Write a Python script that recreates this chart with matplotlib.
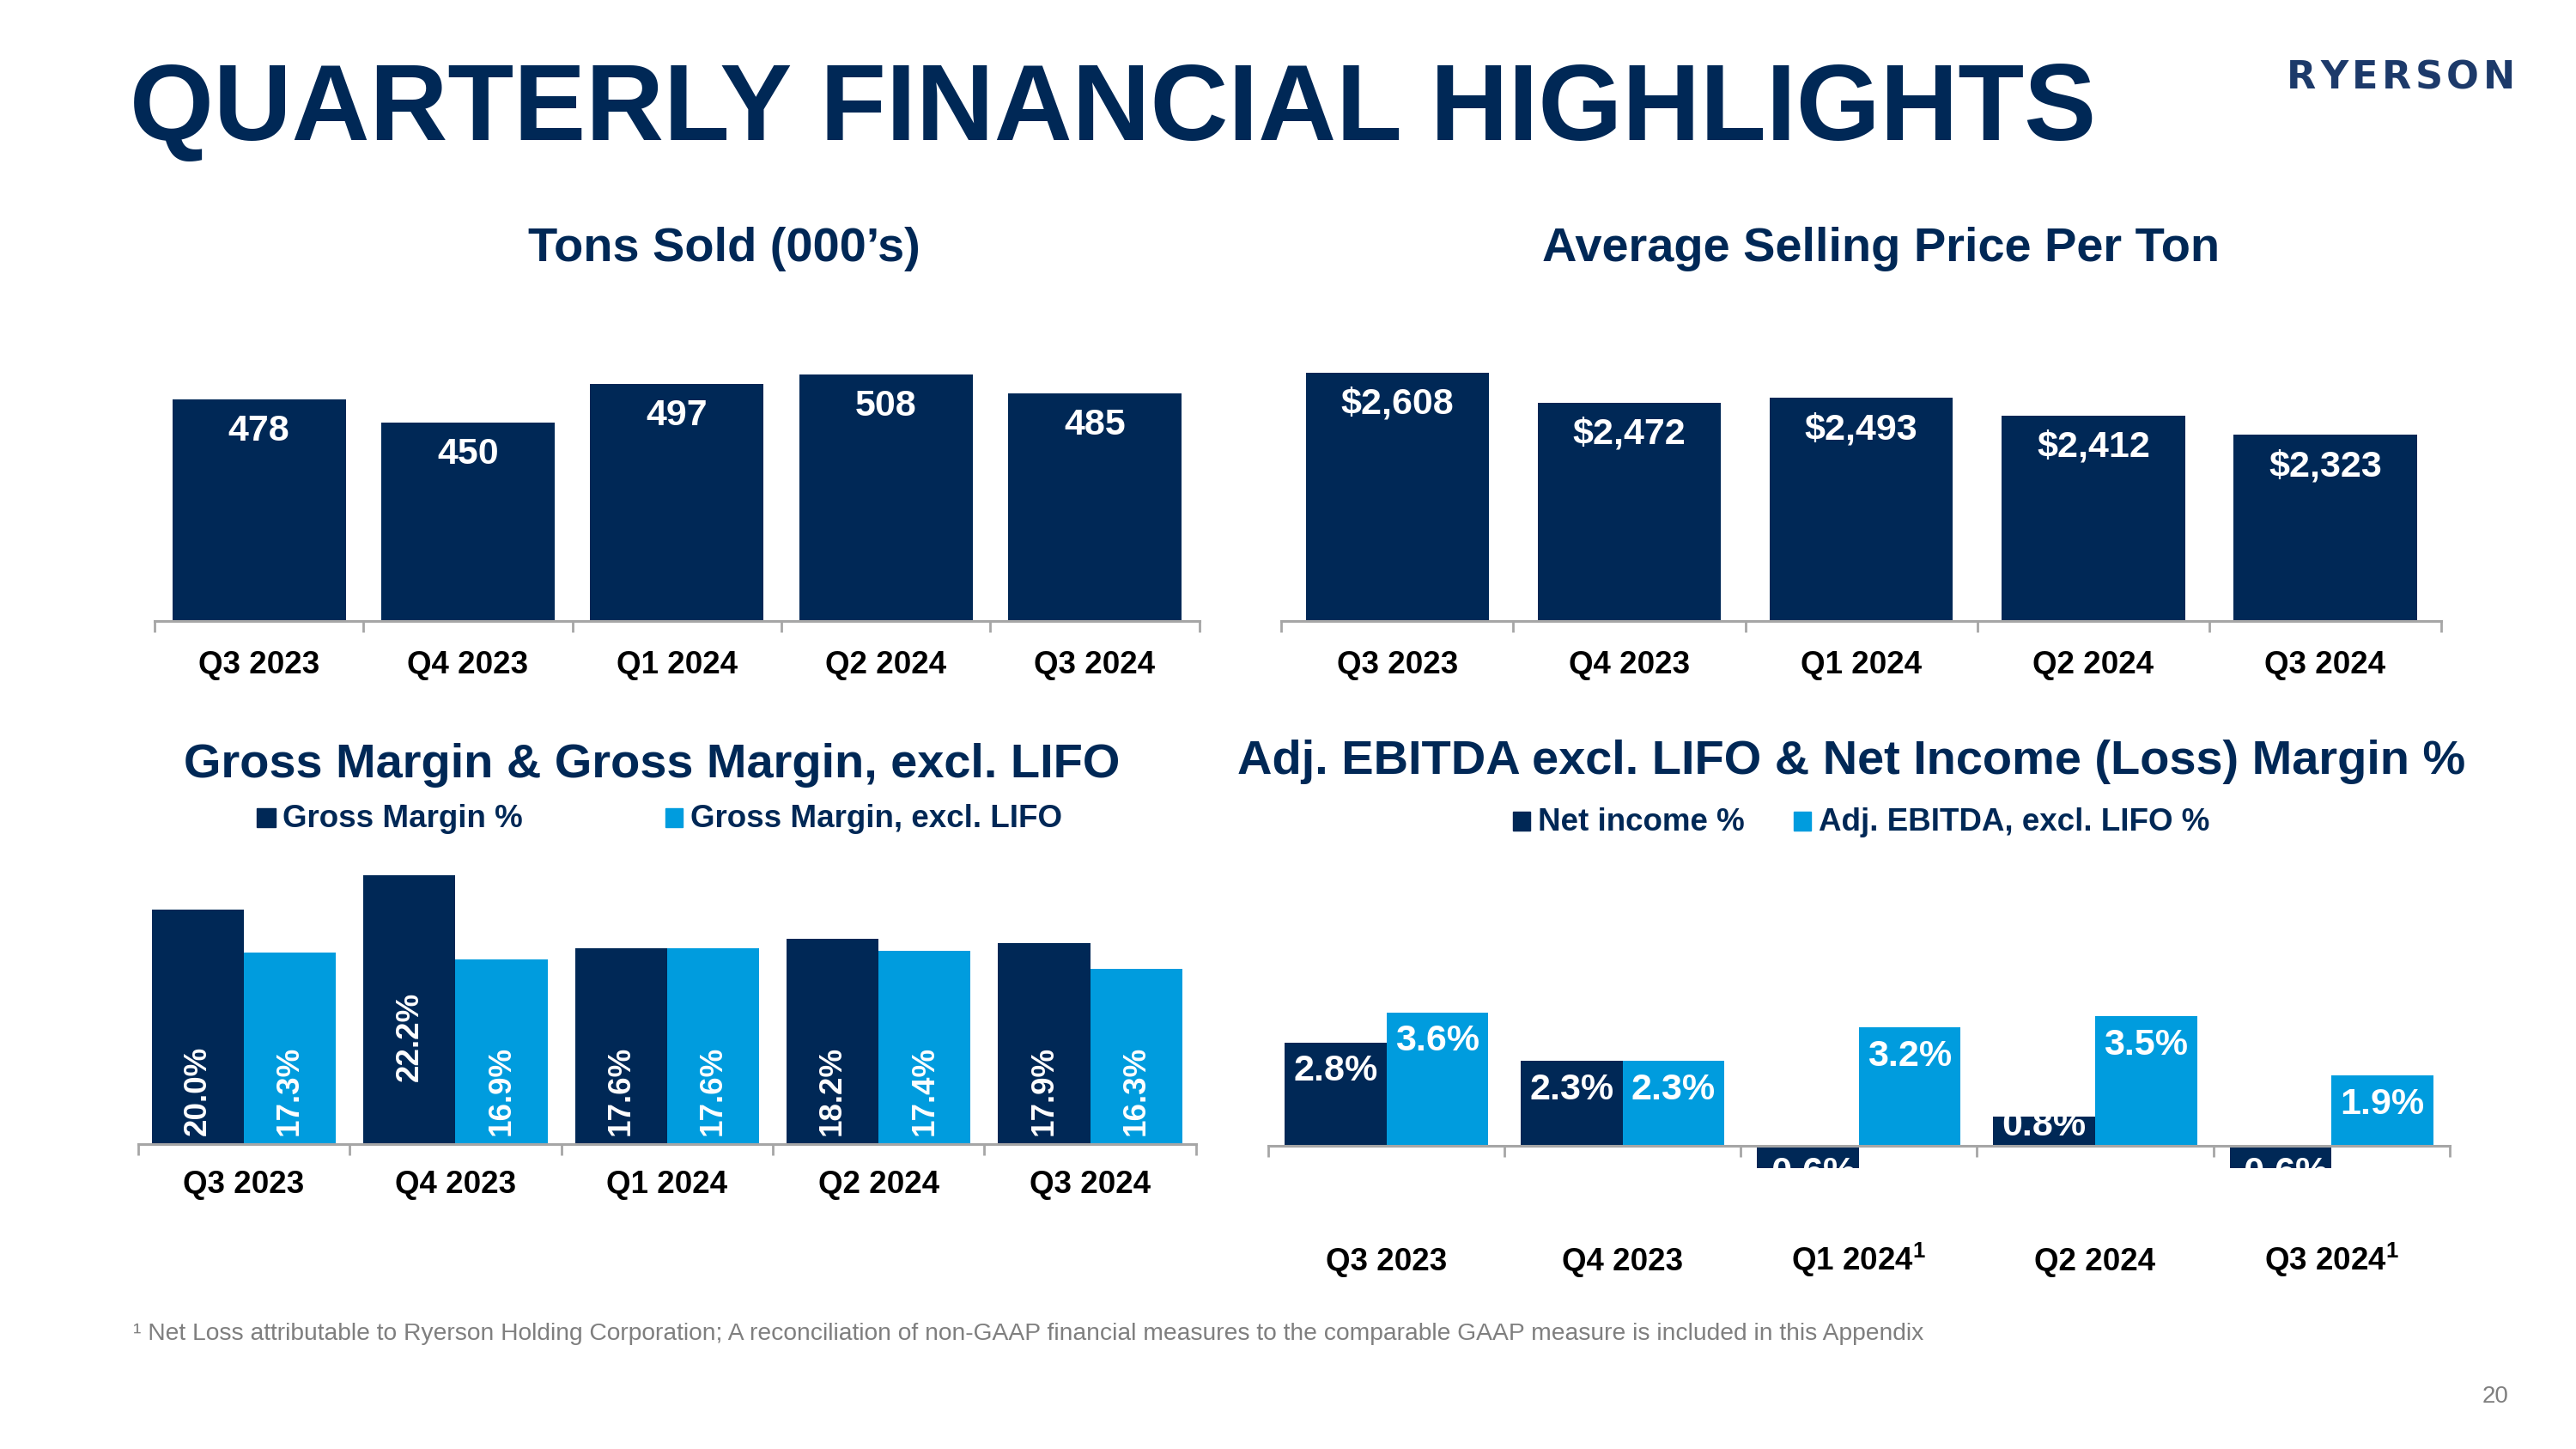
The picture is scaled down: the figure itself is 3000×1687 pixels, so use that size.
import matplotlib
matplotlib.use('Agg')
import matplotlib.pyplot as plt
from matplotlib.patches import Rectangle

plt.rcParams['font.family'] = ['Liberation Sans', 'DejaVu Sans']
plt.rcParams['mathtext.fontset'] = 'custom'
plt.rcParams['mathtext.rm'] = 'Liberation Sans:bold'
plt.rcParams['mathtext.bf'] = 'Liberation Sans:bold'
plt.rcParams['mathtext.default'] = 'rm'

NAVY = '#002856'
BLUE = '#009CDE'
GRAY = '#A6A6A6'
TXTGRAY = '#7F7F7F'

# ---------------- data ----------------
quarters = ['Q3 2023', 'Q4 2023', 'Q1 2024', 'Q2 2024', 'Q3 2024']
quarters_ebitda = ['Q3 2023', 'Q4 2023', 'Q1 2024$^{1}$', 'Q2 2024', 'Q3 2024$^{1}$']
tons_sold = [478, 450, 497, 508, 485]
tons_labels = ['478', '450', '497', '508', '485']
avg_price = [2608, 2472, 2493, 2412, 2323]
price_labels = ['$2,608', '$2,472', '$2,493', '$2,412', '$2,323']
gross_margin = [20.0, 22.2, 17.6, 18.2, 17.9]
gross_margin_excl_lifo = [17.3, 16.9, 17.6, 17.4, 16.3]
net_income_pct = [2.8, 2.3, -0.6, 0.8, -0.6]
adj_ebitda_pct = [3.6, 2.3, 3.2, 3.5, 1.9]

W, H = 3000, 1687
S = 3000 / 1568.0
fig = plt.figure(figsize=(30, 16.87), dpi=100)
renderer = fig.canvas.get_renderer()


def fx(d):
    return d * S / W


def fy(d):
    return 1 - d * S / H


def add_ax(x0, x1, ytop, ybot):
    return fig.add_axes([fx(x0), fy(ybot), fx(x1) - fx(x0), fy(ytop) - fy(ybot)])


def style(ax, labels, pad, va='top'):
    for sp in ['top', 'right', 'left']:
        ax.spines[sp].set_visible(False)
    ax.spines['bottom'].set_color(GRAY)
    ax.spines['bottom'].set_linewidth(2.2)
    ax.set_yticks([])
    ax.set_xlim(-0.5, 4.5)
    ax.set_xticks(range(len(labels)))
    ax.set_xticklabels(labels, fontsize=26.5, fontweight='bold', color='black', va=va)
    ax.tick_params(axis='x', which='major', length=0, pad=pad)
    ax.set_xticks([i - 0.5 for i in range(len(labels) + 1)], minor=True)
    ax.tick_params(axis='x', which='minor', length=9, width=2, color=GRAY, direction='out')
    ax.patch.set_alpha(0)


# ---------------- title & logo ----------------
fig.text(fx(79), fy(85), 'QUARTERLY FINANCIAL HIGHLIGHTS', fontsize=90.6, fontweight='bold',
         color=NAVY, ha='left', va='baseline')

logo = 'RYERSON'
xpos = fx(1392) * W
track = 4.5
for ch in logo:
    t = fig.text(xpos / W, fy(54), ch, fontsize=32, fontweight='bold', color='#1d3a6a',
                 family='DejaVu Sans', ha='left', va='baseline')
    xpos += t.get_window_extent(renderer).width + track

# ---------------- Tons sold ----------------
ax1 = add_ax(94, 730, 200, 378)
x = list(range(len(quarters)))
ax1.bar(x, tons_sold, width=0.83, color=NAVY)
ax1.set_ylim(208, 564)
style(ax1, quarters, 24)
for xi, v, lab in zip(x, tons_sold, tons_labels):
    ax1.annotate(lab, (xi, v), xytext=(0, -26.5), textcoords='offset points', ha='center',
                 va='center', color='white', fontsize=31, fontweight='bold')
fig.text(fx(441), fy(159), 'Tons Sold (000\u2019s)', fontsize=40.3, fontweight='bold',
         color=NAVY, ha='center', va='baseline')

# ---------------- Avg selling price ----------------
ax2 = add_ax(780, 1486, 200, 378)
ax2.bar(x, avg_price, width=0.79, color=NAVY)
ax2.set_ylim(1467, 2811)
style(ax2, quarters, 24)
for xi, v, lab in zip(x, avg_price, price_labels):
    ax2.annotate(lab, (xi, v), xytext=(0, -26.5), textcoords='offset points', ha='center',
                 va='center', color='white', fontsize=31, fontweight='bold')
fig.text(fx(1145), fy(159), 'Average Selling Price Per Ton', fontsize=40.3, fontweight='bold',
         color=NAVY, ha='center', va='baseline')

# ---------------- Gross margin ----------------
ax3 = add_ax(84, 728, 520, 696)
bw = 0.435
ax3.bar([i - bw / 2 for i in x], gross_margin, width=bw, color=NAVY)
ax3.bar([i + bw / 2 for i in x], gross_margin_excl_lifo, width=bw, color=BLUE)
ax3.set_ylim(5.25, 23.5)
style(ax3, quarters, 22)
lift_gm = [7, 52, 7, 7, 7]
for xi, v, lf in zip(x, gross_margin, lift_gm):
    ax3.annotate(f'{v:.1f}%', (xi - bw / 2, 5.25), xytext=(0, lf), textcoords='offset points',
                 ha='center', va='bottom', rotation=90, color='white', fontsize=26.5,
                 fontweight='bold')
for xi, v in zip(x, gross_margin_excl_lifo):
    ax3.annotate(f'{v:.1f}%', (xi + bw / 2, 5.25), xytext=(0, 7), textcoords='offset points',
                 ha='center', va='bottom', rotation=90, color='white', fontsize=26.5,
                 fontweight='bold')
fig.text(fx(397), fy(473), 'Gross Margin & Gross Margin, excl. LIFO', fontsize=40.3,
         fontweight='bold', color=NAVY, ha='center', va='baseline')
# legend
fig.patches.append(Rectangle((299 / W, 1 - 963 / H), 22 / W, 22 / H, transform=fig.transFigure,
                             color=NAVY))
fig.text(329 / W, 1 - 963 / H, 'Gross Margin %', fontsize=26.5, fontweight='bold', color=NAVY,
         ha='left', va='baseline')
fig.patches.append(Rectangle((775 / W, 1 - 963 / H), 20 / W, 22 / H, transform=fig.transFigure,
                             color=BLUE))
fig.text(804 / W, 1 - 963 / H, 'Gross Margin, excl. LIFO', fontsize=26.5, fontweight='bold',
         color=NAVY, ha='left', va='baseline')

# ---------------- EBITDA / Net income ----------------
ax4 = add_ax(772, 1491, 520, 711)
ax4.spines['bottom'].set_position(('data', 0))
bw4 = 0.431
ax4.bar([i - bw4 / 2 for i in x], net_income_pct, width=bw4, color=NAVY)
ax4.bar([i + bw4 / 2 for i in x], adj_ebitda_pct, width=bw4, color=BLUE)
ax4.set_ylim(-0.6, 7.87)
style(ax4, quarters_ebitda, 104, va='baseline')
for xi, v in zip(x, net_income_pct):
    if v < 0:
        t = ax4.annotate(f'{v:.1f}%', (xi - bw4 / 2, 0), xytext=(0, -8.5),
                         textcoords='offset points', ha='center', va='top', color='white',
                         fontsize=31, fontweight='bold', annotation_clip=False)
        t.set_clip_on(True)
        t.set_clip_box(ax4.bbox)
    elif v < 1.0:
        ax4.annotate(f'{v:.1f}%', (xi - bw4 / 2, v), xytext=(0, -8), textcoords='offset points',
                     ha='center', va='center', color='white', fontsize=31, fontweight='bold')
    else:
        ax4.annotate(f'{v:.1f}%', (xi - bw4 / 2, v), xytext=(0, -24), textcoords='offset points',
                     ha='center', va='center', color='white', fontsize=31, fontweight='bold')
for xi, v in zip(x, adj_ebitda_pct):
    ax4.annotate(f'{v:.1f}%', (xi + bw4 / 2, v), xytext=(0, -24), textcoords='offset points',
                 ha='center', va='center', color='white', fontsize=31, fontweight='bold')
fig.text(fx(1127), fy(471), 'Adj. EBITDA excl. LIFO & Net Income (Loss) Margin %', fontsize=40.3,
         fontweight='bold', color=NAVY, ha='center', va='baseline')
fig.patches.append(Rectangle((1762 / W, 1 - 967 / H), 20 / W, 22 / H, transform=fig.transFigure,
                             color=NAVY))
fig.text(1791 / W, 1 - 967 / H, 'Net income %', fontsize=26.5, fontweight='bold', color=NAVY,
         ha='left', va='baseline')
fig.patches.append(Rectangle((2089 / W, 1 - 967 / H), 20 / W, 22 / H, transform=fig.transFigure,
                             color=BLUE))
fig.text(2118 / W, 1 - 967 / H, 'Adj. EBITDA, excl. LIFO %', fontsize=26.5, fontweight='bold',
         color=NAVY, ha='left', va='baseline')

# ---------------- footnote & page ----------------
fig.text(155 / W, 1 - 1560 / H,
         '\u00b9 Net Loss attributable to Ryerson Holding Corporation; A reconciliation of non-GAAP '
         'financial measures to the comparable GAAP measure is included in this Appendix',
         fontsize=20.3, color=TXTGRAY, ha='left', va='baseline')
fig.text(2922 / W, 1 - 1633 / H, '20', fontsize=20, color=TXTGRAY, ha='right', va='baseline')

fig.savefig('out.png', dpi=100)
